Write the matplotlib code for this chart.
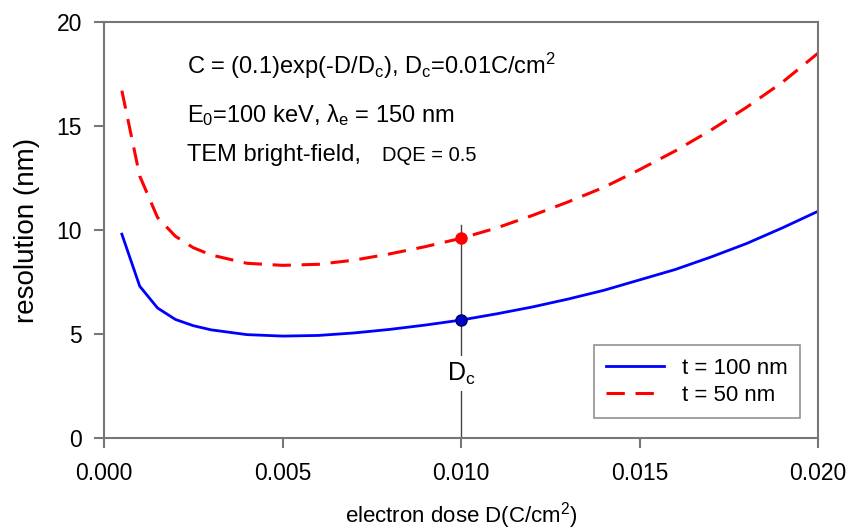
import matplotlib
matplotlib.use("Agg")
import matplotlib.pyplot as plt

plt.rcParams['font.family'] = ['Liberation Sans', 'DejaVu Sans']
plt.rcParams['mathtext.fontset'] = 'custom'
plt.rcParams['mathtext.rm'] = 'Liberation Sans'
plt.rcParams['mathtext.it'] = 'Liberation Sans'
plt.rcParams['mathtext.default'] = 'regular'

dose = [0.0005, 0.001, 0.0015, 0.002, 0.0025, 0.003, 0.004, 0.005, 0.006,
        0.007, 0.008, 0.009, 0.010, 0.011, 0.012, 0.013, 0.014, 0.015,
        0.016, 0.017, 0.018, 0.019, 0.020]
res_100 = [9.8, 7.3, 6.25, 5.7, 5.4, 5.2, 4.97, 4.9, 4.93, 5.05, 5.22, 5.43,
           5.67, 5.97, 6.3, 6.68, 7.1, 7.6, 8.1, 8.7, 9.35, 10.1, 10.9]
res_50 = [16.7, 12.6, 10.6, 9.7, 9.15, 8.8, 8.4, 8.3, 8.35, 8.55, 8.85, 9.2,
          9.6, 10.1, 10.7, 11.35, 12.05, 12.9, 13.8, 14.8, 15.9, 17.1, 18.5]
d_c = 0.010
dot_100 = 5.67
dot_50 = 9.6

fig = plt.figure(figsize=(8.51, 5.32), dpi=100)
ax = fig.add_axes([104 / 851, 1 - 438 / 532, 714 / 851, 416 / 532])

ax.plot(dose, res_100, color='#0000ff', lw=2, label='t = 100 nm')
ax.plot(dose, res_50, color='#ff0000', lw=2.2, dashes=(6, 3.5), label='t = 50 nm')

# vertical marker at Dc
ax.plot([d_c, d_c], [0, 10.25], color='#444444', lw=1, zorder=1)
ax.plot([d_c], [dot_50], 'o', color='#ff0000', ms=8, zorder=3)
ax.plot([d_c], [dot_100], 'o', color='#0000cc', mec='#000055', ms=8, zorder=3)
ax.text(d_c, 3.1, r'D$_{c}$', ha='center', va='center', fontsize=18,
        bbox=dict(facecolor='white', edgecolor='none', pad=3))

ax.text(0.00232, 17.9, r'C = (0.1)exp(-D/D$_{c}$), D$_{c}$=0.01C/cm$^{2}$',
        fontsize=17, va='center')
ax.text(0.00232, 15.55, r'E$_{0}$=100 keV, $\lambda_{e}$ = 150 nm',
        fontsize=17, va='center')
ax.text(0.00232, 13.6, 'TEM bright-field,', fontsize=17, va='center')
ax.text(0.0078, 13.6, 'DQE = 0.5', fontsize=14.5, va='center')

ax.set_xlim(0, 0.020)
ax.set_ylim(0, 20)
ax.set_xticks([0.000, 0.005, 0.010, 0.015, 0.020])
ax.set_xticklabels(['0.000', '0.005', '0.010', '0.015', '0.020'])
ax.set_yticks([0, 5, 10, 15, 20])

for s in ax.spines.values():
    s.set_color('#777777')
    s.set_linewidth(1.5)
ax.tick_params(direction='out', length=7, width=1.5, color='#777777',
               labelsize=16.5)
ax.tick_params(axis='x', pad=10)
ax.tick_params(axis='y', pad=9)

ax.set_ylabel('resolution (nm)', fontsize=20, labelpad=12)
ax.set_xlabel(r'electron dose D(C/cm$^{2}$)', fontsize=16, labelpad=11)

leg = ax.legend(loc='lower right', bbox_to_anchor=(0.9745, 0.047), fontsize=16,
                fancybox=False, edgecolor='#777777', handlelength=2.6,
                borderpad=0.55, labelspacing=0.3, borderaxespad=0,
                handletextpad=0.8)
leg.get_frame().set_linewidth(1.2)

fig.savefig('out.png', dpi=100)
